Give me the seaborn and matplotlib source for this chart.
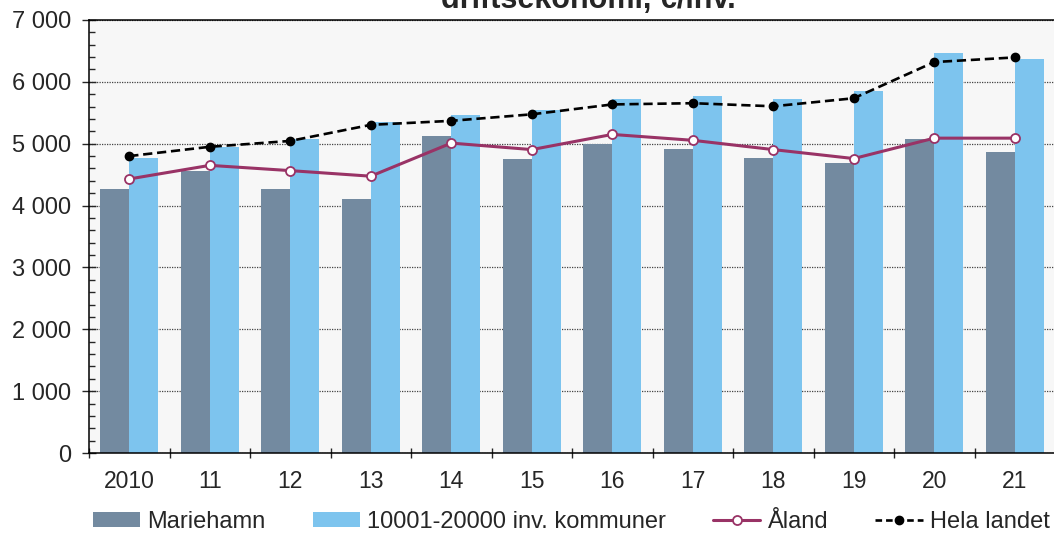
import numpy as np
import pandas as pd
import matplotlib
matplotlib.use("Agg")
import matplotlib.pyplot as plt
import matplotlib.ticker as mticker
from matplotlib.patches import Patch
from matplotlib.lines import Line2D
import seaborn as sns

years = ["2010", "11", "12", "13", "14", "15", "16", "17", "18", "19", "20", "21"]
mariehamn = [4260, 4560, 4260, 4100, 5125, 4750, 5000, 4920, 4770, 4690, 5075, 4860]
kommuner = [4770, 4950, 5070, 5350, 5460, 5540, 5720, 5770, 5720, 5850, 6460, 6370]
aland = [4430, 4650, 4565, 4475, 5010, 4905, 5150, 5055, 4905, 4760, 5090, 5090]
hela_landet = [4800, 4950, 5045, 5305, 5370, 5475, 5635, 5655, 5605, 5735, 6320, 6395]
series_names = ["Mariehamn", "10001-20000 inv. kommuner", "Åland", "Hela landet"]
title_text = "driftsekonomi, €/inv."

dark = "#738AA0"
light = "#7DC4EE"
purple = "#993366"

sns.set_style("white")
plt.rcParams['font.family'] = ['Liberation Sans', 'DejaVu Sans']

df = pd.DataFrame({
    "year": years * 2,
    "value": mariehamn + kommuner,
    "series": [series_names[0]] * len(years) + [series_names[1]] * len(years),
})

fig = plt.figure(figsize=(10.54, 5.35), dpi=100)
ax = fig.add_axes([89 / 1054, 82 / 535, 966 / 1054, 433 / 535])
ax.set_facecolor("#F7F7F7")

sns.barplot(data=df, x="year", y="value", hue="series", order=years,
            palette=[dark, light], width=0.72, gap=0, saturation=1,
            linewidth=0, edgecolor="none",
            legend=False, ax=ax, zorder=2)

x = np.arange(len(years))
ax.plot(x, aland, color=purple, lw=2.2, marker="o", ms=6.5,
        mfc="white", mec=purple, mew=1.3, zorder=4)
ax.plot(x, hela_landet, color="black", lw=1.9, ls=(0, (3.5, 1.8)),
        marker="o", ms=6, mfc="black", mec="black", zorder=5)

ax.set_xlim(-0.5, len(years) - 0.5)
ax.set_ylim(0, 7000)
ax.yaxis.set_major_locator(mticker.MultipleLocator(1000))
ax.yaxis.set_minor_locator(mticker.MultipleLocator(200))
ax.yaxis.set_major_formatter(mticker.FuncFormatter(lambda v, p: f"{int(v):,}".replace(",", " ")))
ax.set_xticks(x)
ax.set_xticklabels(years)
ax.set_xticks(np.arange(-0.5, len(years)), minor=True)
ax.set_xlabel("")
ax.set_ylabel("")

ax.grid(axis="y", which="major", color="#444444", lw=0.9, ls=(0, (1, 1)), zorder=1)
ax.set_axisbelow(True)

ax.tick_params(axis="y", which="major", direction="inout", length=9.5, width=1,
               labelsize=17, pad=8, left=True)
ax.tick_params(axis="y", which="minor", direction="in", length=4, width=1, left=True)
ax.tick_params(axis="x", which="major", length=0, labelsize=16.5, pad=12)
ax.tick_params(axis="x", which="minor", direction="inout", length=7, width=1, bottom=True)

for s in ["left", "top", "bottom"]:
    ax.spines[s].set_visible(True)
    ax.spines[s].set_color("black")
    ax.spines[s].set_linewidth(1.1)
ax.spines["right"].set_visible(False)

fig.text(0.558, 0.985, title_text, ha="center", va="baseline",
         fontsize=22, fontweight="bold")

handles = [
    Patch(facecolor=dark, edgecolor="none"),
    Patch(facecolor=light, edgecolor="none"),
    Line2D([], [], color=purple, lw=2.2, marker="o", ms=6.5, mfc="white", mec=purple, mew=1.3),
    Line2D([], [], color="black", lw=1.9, ls=(0, (2.5, 1.5)), marker="o", ms=6, mfc="black"),
]
fig.legend(handles, series_names, loc="center", bbox_to_anchor=(0.542, 0.024),
           ncol=4, frameon=False, fontsize=17, handlelength=2.0, handleheight=0.6,
           handletextpad=0.3, columnspacing=2.0, borderaxespad=0, borderpad=0)

fig.savefig("out.png", dpi=100)
